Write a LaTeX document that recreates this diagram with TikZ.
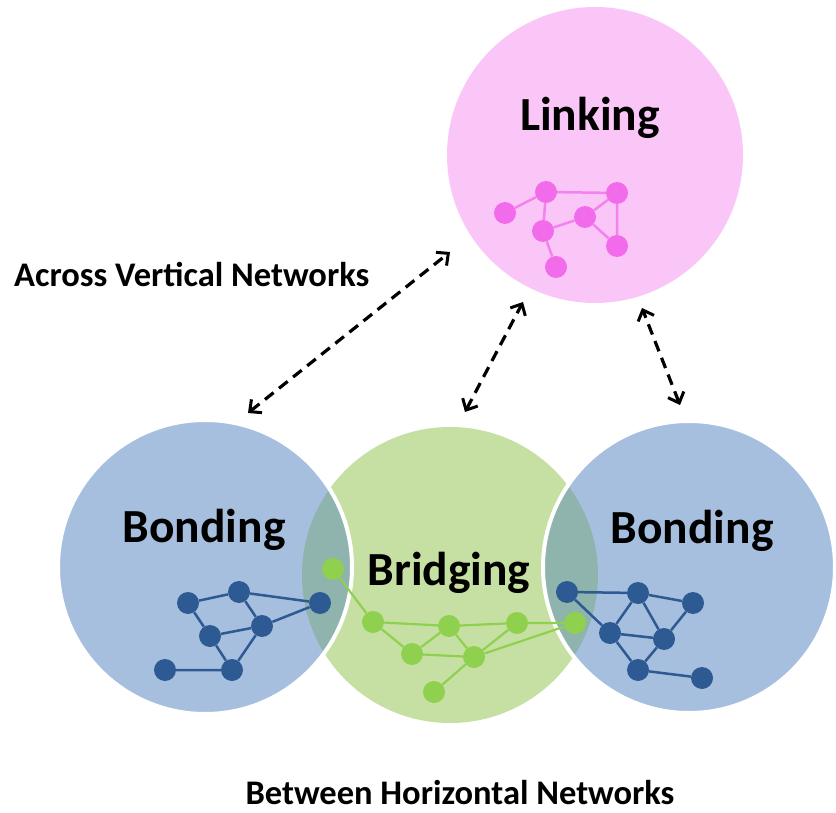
\documentclass[tikz,border=0pt]{standalone}
\usepackage{fontspec}
\setmainfont{Carlito}
\usetikzlibrary{arrows.meta}

\definecolor{pinkfill}{HTML}{FAC6F8}
\definecolor{pinknode}{HTML}{F26BEA}
\definecolor{bluefill}{HTML}{A7BFDE}
\definecolor{bluenode}{HTML}{2E5A94}
\definecolor{greenfill}{HTML}{C5E0A2}
\definecolor{greennode}{HTML}{8FD14F}
\definecolor{overlapfill}{HTML}{8FB3AD}

\tikzset{
  pnode/.style={circle, fill=pinknode, inner sep=0pt, minimum size=22pt},
  bnode/.style={circle, fill=bluenode, inner sep=0pt, minimum size=22pt},
  gnode/.style={circle, fill=greennode, inner sep=0pt, minimum size=22pt},
  pedge/.style={draw=pinknode!85!white, line width=2.5pt},
  bedge/.style={draw=bluenode, line width=2.5pt},
  gedge/.style={draw=greennode, line width=2.2pt},
  biglabel/.style={font=\bfseries\fontsize{47.5}{56}\selectfont, inner sep=0pt, anchor=base},
  sidelabel/.style={font=\bfseries\fontsize{34.5}{40}\selectfont, inner sep=0pt, anchor=base},
  relbarb/.tip={Straight Barb[length=9pt,width=17pt,line width=3pt]},
  relation/.style={black, line width=3.2pt, dash pattern=on 11pt off 7pt, {relbarb}-{relbarb}}
}

\begin{document}
\begin{tikzpicture}[x=1pt, y=-1pt]
\useasboundingbox (0,0) rectangle (836,813);

% circles
\fill[pinkfill] (595,155) circle (148pt);
\fill[greenfill] (450,575) circle (148pt);
\fill[bluefill] (205,567) circle (147pt);
\fill[bluefill] (689,567) circle (146pt);
\begin{scope}
  \clip (450,575) circle (148pt);
  \fill[overlapfill] (205,567) circle (147pt);
  \fill[overlapfill] (689,567) circle (146pt);
\end{scope}
\draw[white, line width=4pt] (205,567) circle (147pt);
\draw[white, line width=4pt] (689,567) circle (146pt);

% labels
\node[biglabel] (linking) at (590,131) {Linking};
\node[biglabel] (bondL) at (204,542) {Bonding};
\node[biglabel] (bondR) at (692,543) {Bonding};
\node[biglabel] (bridging) at (449,585) {Bridging};
\node[sidelabel, anchor=base west] (across) at (14,287) {Across Vertical Networks};
\node[sidelabel] (between) at (460,804) {Between Horizontal Networks};

% linking network
\node[pnode] (p1) at (505,213) {};
\node[pnode] (p2) at (546,192) {};
\node[pnode] (p3) at (617,193) {};
\node[pnode] (p4) at (585,217) {};
\node[pnode] (p5) at (543,231) {};
\node[pnode] (p6) at (617,246) {};
\node[pnode] (p7) at (556,267) {};
\path[pedge] (p1)--(p2) (p2)--(p3) (p2)--(p5) (p5)--(p4) (p4)--(p3)
  (p3)--(p6) (p4)--(p6) (p5)--(p7);

% left bonding network
\node[bnode] (a) at (188,603) {};
\node[bnode] (b) at (239,592) {};
\node[bnode] (c) at (320,603) {};
\node[bnode] (d) at (262,626) {};
\node[bnode] (e) at (210,636) {};
\node[bnode] (f) at (232,670) {};
\node[bnode] (g) at (165,670) {};
\path[bedge] (a)--(b) (b)--(c) (b)--(d) (c)--(d) (a)--(e) (e)--(d)
  (e)--(f) (d)--(f) (g)--(f);

% right bonding network
\node[bnode] (A) at (567,592) {};
\node[bnode] (B) at (638,593) {};
\node[bnode] (C) at (693,603) {};
\node[bnode] (D) at (610,633) {};
\node[bnode] (E) at (664,639) {};
\node[bnode] (F) at (638,670) {};
\node[bnode] (G) at (702,678) {};
\path[bedge] (A)--(B) (B)--(C) (A)--(D) (B)--(D) (B)--(E) (C)--(E)
  (D)--(E) (D)--(F) (E)--(F) (F)--(G);

% bridging network
\node[gnode] (gp) at (333,569) {};
\node[gnode] (gq) at (373,622) {};
\node[gnode] (gr) at (449,626) {};
\node[gnode] (gs) at (517,623) {};
\node[gnode] (gt) at (575,623) {};
\node[gnode] (gu) at (412,654) {};
\node[gnode] (gv) at (474,657) {};
\node[gnode] (gw) at (434,692) {};
\path[gedge] (gp)--(gq) (gq)--(gr) (gr)--(gs) (gs)--(gt) (gq)--(gu)
  (gu)--(gr) (gr)--(gv) (gu)--(gv) (gv)--(gs) (gv)--(gt) (gv)--(gw);

% relations between levels
\coordinate (r1a) at (248,413);
\coordinate (r1b) at (450,252);
\coordinate (r2a) at (465,412);
\coordinate (r2b) at (523,302);
\coordinate (r3a) at (680,405);
\coordinate (r3b) at (642,308);
\draw[relation] (r1a) -- (r1b);
\draw[relation] (r2a) -- (r2b);
\draw[relation] (r3a) -- (r3b);
\end{tikzpicture}
\end{document}
